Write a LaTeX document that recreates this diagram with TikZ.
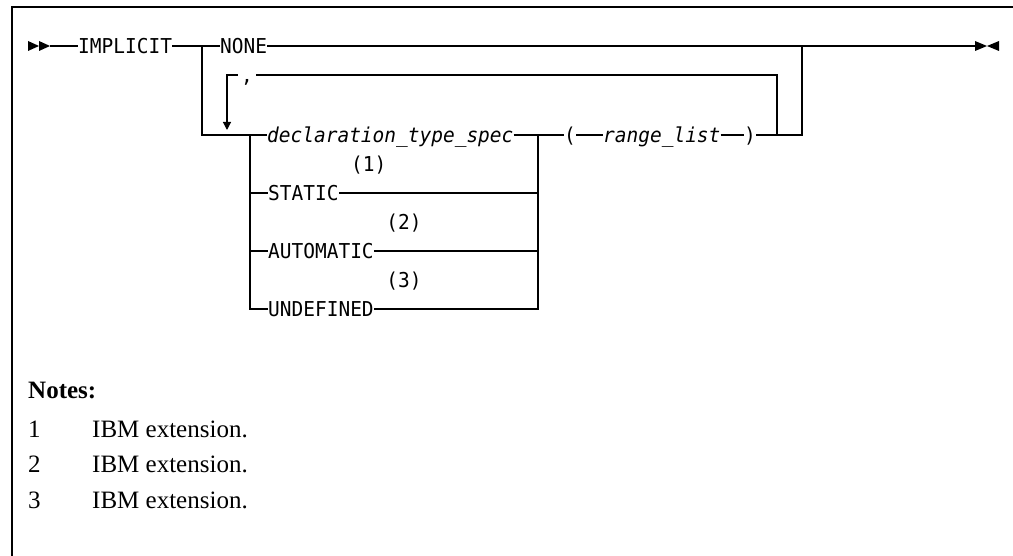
\documentclass[tikz,border=0pt]{standalone}
\usepackage{fontspec}
\usepackage{tikz}
\usetikzlibrary{arrows.meta,calc}
\newfontfamily\railfont[FakeStretch=0.95]{DejaVu Sans Mono}
\newfontfamily\notefont{Liberation Serif}
\newcommand{\kwfont}{\railfont\fontsize{20.5}{20.5}\selectfont}
\newcommand{\ntfont}{\notefont\fontsize{25}{30}\selectfont}

\begin{document}
\begin{tikzpicture}[
    x=1pt, y=-1pt,
    rail/.style={line width=1.2pt},
    kw/.style={inner sep=0pt, anchor=west, font=\kwfont, text height=14.9pt, text depth=0pt},
    var/.style={kw, font=\kwfont\itshape},
    noteref/.style={kw, anchor=center},
    notetext/.style={inner sep=0pt, anchor=base west, font=\ntfont}
]
\useasboundingbox (0,0) rectangle (1013,556);

% Frame
\draw[rail] (12,556) -- (12,7) -- (1013,7);

% Main line
\coordinate (start) at (50,46);
\coordinate (split) at (202,46);
\coordinate (join) at (802,46);
\coordinate (stop) at (975,46);
\fill (28,41) -- (39,46) -- (28,51) -- cycle;
\fill (39,41) -- (start) -- (39,51) -- cycle;

\node[kw] (implicit) at (78,46) {IMPLICIT};
\node[kw] (none) at (220,46) {NONE};

% Repeated group
\node[var] (decl) at (267,135) {declaration\_type\_spec};
\node[kw] (lparen) at (564,135) {(};
\node[var] (range) at (603,135) {range\_list};
\node[kw] (rparen) at (744,135) {)};
\node[kw, anchor=center, inner xsep=3pt] (comma) at (247,75) {,};

% Alternatives
\node[kw] (static) at (268,193) {STATIC};
\node[kw] (automatic) at (268,251) {AUTOMATIC};
\node[kw] (undefined) at (268,309) {UNDEFINED};
\node[noteref] (ref1) at ([shift={(30,-29)}]static.east) {(1)};
\node[noteref] (ref2) at ([shift={(30,-29)}]automatic.east) {(2)};
\node[noteref] (ref3) at ([shift={(30,-29)}]undefined.east) {(3)};

\coordinate (altL) at (250,135);
\coordinate (altR) at (538,135);
\coordinate (loopL) at (227,130);
\coordinate (loopR) at (777,135);

% Connectors
\draw[rail] (start) -- (implicit.west);
\draw[rail] (implicit.east) -- (none.west);
\draw[rail] (none.east) -- (stop);
\draw[rail] (split) |- (decl.west);
\draw[rail] (decl.east) -- (lparen.west);
\draw[rail] (lparen.east) -- (range.west);
\draw[rail] (range.east) -- (rparen.west);
\draw[rail] (rparen.east) -| (join);
\draw[rail] (comma.east) -| (loopR);
\draw[rail, -{Triangle[length=8pt, width=8pt]}] (comma.west) -| (loopL);
\draw[rail] (altL) |- (undefined.west);
\draw[rail] (altR) |- (undefined.east);
\foreach \n in {static, automatic} {
    \draw[rail] (\n.west -| altL) -- (\n.west);
    \draw[rail] (\n.east) -- (\n.east -| altR);
}

% End marker
\fill (stop) ++(0,-5) -- ++(12,5) -- ++(-12,5) -- cycle;
\fill (stop) ++(24,-5) -- ++(-12,5) -- ++(12,5) -- cycle;

% Notes
\node[notetext, font=\ntfont\bfseries] (notes) at (28,398) {Notes:};
\foreach \i/\y in {1/437, 2/472, 3/508} {
    \node[notetext] (num\i) at (28,\y) {\i};
    \node[notetext] (note\i) at (92,\y) {IBM extension.};
}

\end{tikzpicture}
\end{document}
